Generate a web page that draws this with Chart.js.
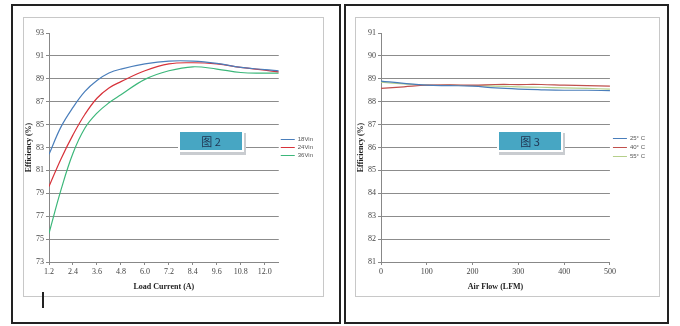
<!DOCTYPE html>
<html>
<head>
<meta charset="utf-8">
<script src="https://cdn.jsdelivr.net/npm/chart.js@4/dist/chart.umd.min.js"></script>
<style>
  body { margin: 0; width: 680px; height: 326px; background: #fff; position: relative; overflow: hidden; }
  .panel { position: absolute; border: 2px solid #222; box-sizing: border-box; }
  .inner { position: absolute; border: 1px solid #c8c8c8; box-sizing: border-box; background: #fff; }
  .inner canvas { position: absolute; left: 0; top: 0; }
  .tag { position: absolute; width: 62px; height: 18px; background: #47a6c3; border: 2px solid #fff;
         box-shadow: 2px 3px 0 #c9ccd0; font: 11px "Noto Sans CJK SC", sans-serif; color: #1f3350;
         text-align: center; line-height: 18px; }
  .cursor { position: absolute; left: 42px; top: 292px; width: 2px; height: 16px; background: #222; }
</style>
</head>
<body>
<div class="panel" style="left:11px;top:4px;width:330px;height:320px"></div>
<div class="panel" style="left:344px;top:4px;width:325px;height:320px"></div>
<div class="inner" style="left:23px;top:17px;width:301px;height:280px"><canvas id="c1"></canvas></div>
<div class="inner" style="left:355px;top:17px;width:305px;height:280px"><canvas id="c2"></canvas></div>
<div class="tag" style="left:178px;top:130px">图 2</div>
<div class="tag" style="left:497px;top:130px">图 3</div>
<div class="cursor"></div>
<script>
// chart 1: efficiency vs load current
const loadCurrent = [1.2, 1.8, 2.4, 3.0, 3.6, 4.2, 4.8, 6.0, 7.2, 8.4, 9.6, 10.8, 12.0, 12.7];
const vin18 = [82.4, 84.8, 86.5, 87.9, 88.85, 89.5, 89.85, 90.3, 90.55, 90.55, 90.35, 90.0, 89.8, 89.7];
const vin24 = [79.6, 82.0, 84.1, 85.9, 87.3, 88.2, 88.75, 89.7, 90.3, 90.4, 90.3, 90.0, 89.75, 89.6];
const vin36 = [75.5, 79.3, 82.5, 84.7, 86.0, 86.9, 87.6, 88.95, 89.7, 90.05, 89.85, 89.55, 89.5, 89.5];
const currentTicks = ['1.2', '2.4', '3.6', '4.8', '6.0', '7.2', '8.4', '9.6', '10.8', '12.0'];

// chart 2: efficiency vs air flow
const airFlow = [0, 50, 100, 150, 200, 250, 300, 350, 400, 450, 500];
const t25 = [88.9, 88.8, 88.72, 88.7, 88.68, 88.6, 88.55, 88.52, 88.5, 88.5, 88.48];
const t40 = [88.58, 88.65, 88.72, 88.74, 88.72, 88.75, 88.75, 88.75, 88.72, 88.7, 88.68];
const t55 = [88.85, 88.78, 88.72, 88.72, 88.7, 88.68, 88.65, 88.63, 88.6, 88.58, 88.55];

const tickFont = { family: 'Liberation Serif', size: 8 };
const titleFont = { family: 'Liberation Serif', size: 8, weight: 'bold' };

function pts(xs, ys) {
  return xs.map((x, i) => ({ x: x, y: ys[i] }));
}

// keep the legend centred on the plot area, like Excel does
const legendToPlot = {
  id: 'legendToPlot',
  afterLayout(chart) {
    const lg = chart.legend, ca = chart.chartArea;
    if (!lg) return;
    lg.top = ca.top;
    lg.bottom = ca.bottom;
  }
};

function makeChart(id, w, h, datasets, xOpts, yMin, yMax, yStep, xTitle, padRight, lblPad) {
  const cv = document.getElementById(id);
  cv.width = w; cv.height = h;
  return new Chart(cv, {
    type: 'line',
    data: { datasets: datasets },
    plugins: [legendToPlot],
    options: {
      responsive: false,
      animation: false,
      layout: { padding: { top: 15, right: padRight, left: 0, bottom: 0 } },
      elements: { point: { radius: 0 }, line: { borderWidth: 1.2, tension: 0.4 } },
      plugins: {
        tooltip: { enabled: false },
        legend: {
          position: 'right',
          labels: {
            usePointStyle: true, pointStyle: 'line', pointStyleWidth: 14,
            font: { family: 'Liberation Sans', size: 6 }, color: '#555', padding: lblPad
          }
        }
      },
      scales: {
        x: Object.assign({
          type: 'linear',
          grid: { drawOnChartArea: false, color: '#888', tickColor: '#888', tickLength: 3 },
          border: { color: '#888' },
          ticks: { font: tickFont, color: '#444', maxRotation: 0, padding: 2 },
          title: { display: true, text: xTitle, font: titleFont, color: '#222', padding: { top: 2, bottom: 4 } },
          afterFit: s => { s.height = 34; }
        }, xOpts),
        y: {
          min: yMin, max: yMax,
          grid: { color: c => c.tick.value === yMax ? 'rgba(0,0,0,0)' : '#8c8c8c', tickColor: '#888', tickLength: 3 },
          border: { color: '#888' },
          ticks: { stepSize: yStep, font: tickFont, color: '#444', padding: 2 },
          title: { display: true, text: 'Efficiency (%)', font: titleFont, color: '#222', padding: 0 },
          afterFit: s => { s.width = 25; }
        }
      }
    }
  });
}

makeChart('c1', 299, 278, [
  { label: '18Vin', data: pts(loadCurrent, vin18), borderColor: '#4a7ebb' },
  { label: '24Vin', data: pts(loadCurrent, vin24), borderColor: '#d7323a' },
  { label: '36Vin', data: pts(loadCurrent, vin36), borderColor: '#3cb77a' }
], {
  min: 1.2, max: 12.7,
  afterBuildTicks: s => { s.ticks = currentTicks.map(t => ({ value: parseFloat(t) })); },
  ticks: { font: tickFont, color: '#444', maxRotation: 0, padding: 2, autoSkip: false,
           callback: v => v.toFixed(1) }
}, 73, 93, 2, 'Load Current (A)', 0, 2);

makeChart('c2', 303, 278, [
  { label: '25° C', data: pts(airFlow, t25), borderColor: '#4a7ebb' },
  { label: '40° C', data: pts(airFlow, t40), borderColor: '#c0504d' },
  { label: '55° C', data: pts(airFlow, t55), borderColor: '#b5cf8a' }
], {
  min: 0, max: 500,
  ticks: { font: tickFont, color: '#444', maxRotation: 0, padding: 2, stepSize: 100 }
}, 81, 91, 1, 'Air Flow (LFM)', 4, 3);
</script>
</body>
</html>
